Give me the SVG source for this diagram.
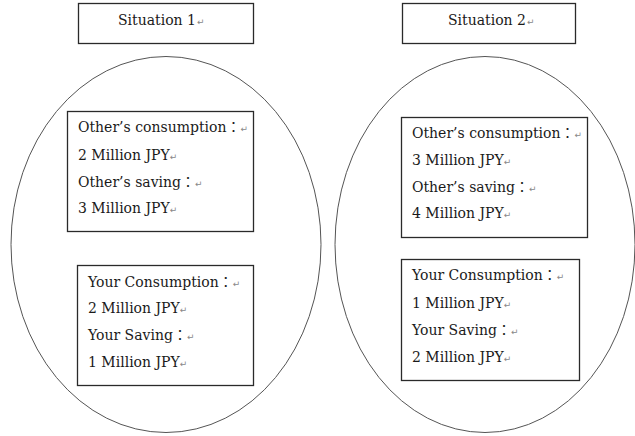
<svg xmlns="http://www.w3.org/2000/svg" width="635" height="436" viewBox="0 0 635 436">
<style>
.bg{fill:#ffffff}
.box{fill:#ffffff;stroke:#2a2a2a;stroke-width:1.3}
.ell{fill:none;stroke:#555555;stroke-width:1}
.t{font-family:"DejaVu Serif","Noto Sans CJK JP",serif;font-size:14px;fill:#1a1a1a}
.m{font-family:"DejaVu Sans",sans-serif;font-size:9px;fill:#888888}
</style>
<rect class="bg" x="0" y="0" width="635" height="436"/>
<g id="situation1-label">
<rect class="box" x="78.5" y="3.5" width="175" height="40"/>
<text class="t" x="118" y="25">Situation 1<tspan class="m" dx="1">↵</tspan></text>
</g>
<g id="situation2-label">
<rect class="box" x="402.5" y="3.5" width="173" height="40"/>
<text class="t" x="448" y="25">Situation 2<tspan class="m" dx="1">↵</tspan></text>
</g>
<g id="situation1">
<ellipse class="ell" cx="166" cy="244.5" rx="155" ry="188"/>
</g>
<g id="situation2">
<ellipse class="ell" cx="485" cy="244.5" rx="150" ry="188"/>
</g>
<g id="others1">
<rect class="box" x="67.5" y="111.5" width="186" height="120"/>
<text class="t" x="78" y="132">Other’s consumption：<tspan class="m">↵</tspan></text>
<text class="t" x="78" y="160">2 Million JPY<tspan class="m">↵</tspan></text>
<text class="t" x="78" y="187">Other’s saving：<tspan class="m">↵</tspan></text>
<text class="t" x="78" y="213">3 Million JPY<tspan class="m">↵</tspan></text>
</g>
<g id="yours1">
<rect class="box" x="77.5" y="265.5" width="176" height="120"/>
<text class="t" x="88" y="287">Your Consumption：<tspan class="m">↵</tspan></text>
<text class="t" x="88" y="313">2 Million JPY<tspan class="m">↵</tspan></text>
<text class="t" x="88" y="340">Your Saving：<tspan class="m">↵</tspan></text>
<text class="t" x="88" y="367">1 Million JPY<tspan class="m">↵</tspan></text>
</g>
<g id="others2">
<rect class="box" x="401.5" y="117.5" width="186" height="120"/>
<text class="t" x="412" y="138">Other’s consumption：<tspan class="m">↵</tspan></text>
<text class="t" x="412" y="165">3 Million JPY<tspan class="m">↵</tspan></text>
<text class="t" x="412" y="192">Other’s saving：<tspan class="m">↵</tspan></text>
<text class="t" x="412" y="218">4 Million JPY<tspan class="m">↵</tspan></text>
</g>
<g id="yours2">
<rect class="box" x="401.5" y="259.5" width="178" height="121"/>
<text class="t" x="412" y="280">Your Consumption：<tspan class="m">↵</tspan></text>
<text class="t" x="412" y="308">1 Million JPY<tspan class="m">↵</tspan></text>
<text class="t" x="412" y="335">Your Saving：<tspan class="m">↵</tspan></text>
<text class="t" x="412" y="362">2 Million JPY<tspan class="m">↵</tspan></text>
</g>
<g id="connectors"></g>
</svg>
